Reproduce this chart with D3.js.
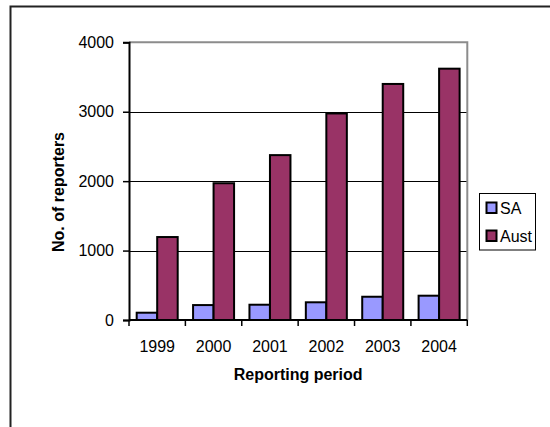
<!DOCTYPE html>
<html>
<head>
<meta charset="utf-8">
<script src="https://cdn.jsdelivr.net/npm/d3@7"></script>
<style>
  html, body { margin: 0; padding: 0; background: #fff; }
  svg { display: block; font-family: "Liberation Sans", Arial, sans-serif; }
</style>
</head>
<body>
<svg id="chart" width="550" height="427"></svg>
<script>
// Reporting periods and the number of reporters per period
const years = ["1999", "2000", "2001", "2002", "2003", "2004"];
const seriesNames = ["SA", "Aust"];
const saValues = [105, 215, 220, 255, 335, 350];
const austValues = [1195, 1970, 2375, 2975, 3400, 3620];
const yTicks = [0, 1000, 2000, 3000, 4000];
const seriesColors = ["#9999FF", "#993366"];

const rows = years.map((y, i) => ({ year: y, SA: saValues[i], Aust: austValues[i] }));

const svg = d3.select("#chart");

// Chart area frame
svg.append("rect")
  .attr("x", 10.5).attr("y", 6.5)
  .attr("width", 600).attr("height", 500)
  .attr("fill", "#fff")
  .attr("stroke", "#222").attr("stroke-width", 2);

const plot = { left: 129, top: 42.3, right: 467.3, bottom: 320 };

const x0 = d3.scaleBand().domain(years).range([plot.left, plot.right]).paddingInner(0).paddingOuter(0);
const x1 = d3.scaleBand().domain(seriesNames).range([0, x0.bandwidth()]).paddingInner(0).paddingOuter(0.375);
const y = d3.scaleLinear().domain([0, 4000]).range([plot.bottom, plot.top]);
const color = d3.scaleOrdinal().domain(seriesNames).range(seriesColors);

// Horizontal gridlines
svg.append("g")
  .selectAll("line")
  .data(yTicks.filter(t => t > 0 && t < 4000))
  .join("line")
  .attr("x1", plot.left).attr("x2", plot.right)
  .attr("y1", d => Math.round(y(d)) + 0.5).attr("y2", d => Math.round(y(d)) + 0.5)
  .attr("stroke", "#000").attr("stroke-width", 1);

// Plot area border (top and right in grey)
svg.append("path")
  .attr("d", `M${plot.left},${plot.top}H${plot.right}V${plot.bottom}`)
  .attr("fill", "none")
  .attr("stroke", "#8c8c8c").attr("stroke-width", 2);

// Bars
svg.append("g")
  .selectAll("g")
  .data(rows)
  .join("g")
  .attr("transform", d => `translate(${x0(d.year)},0)`)
  .selectAll("rect")
  .data(d => seriesNames.map(k => ({ key: k, value: d[k] })))
  .join("rect")
  .attr("x", d => x1(d.key))
  .attr("y", d => y(d.value))
  .attr("width", x1.bandwidth())
  .attr("height", d => y(0) - y(d.value))
  .attr("fill", d => color(d.key))
  .attr("stroke", "#000").attr("stroke-width", 2);

// Y axis
const yAxis = svg.append("g")
  .attr("transform", `translate(${plot.left},0)`)
  .call(d3.axisLeft(y).tickValues(yTicks).tickSize(6).tickPadding(9).tickFormat(d3.format("d")));
yAxis.select(".domain").attr("stroke", "#000").attr("stroke-width", 2);
yAxis.selectAll(".tick line").attr("stroke", "#000").attr("stroke-width", 1.5);
yAxis.selectAll(".tick text").attr("font-size", 16).attr("fill", "#000")
  .attr("font-family", "'Liberation Sans', Arial, sans-serif");

// X axis: ticks at category boundaries
const xAxis = svg.append("g")
  .attr("transform", `translate(0,${plot.bottom})`);
xAxis.append("line")
  .attr("x1", plot.left).attr("x2", plot.right)
  .attr("stroke", "#000").attr("stroke-width", 2);
const boundaries = years.map(yv => x0(yv)).concat([plot.right]);
xAxis.selectAll("line.tick")
  .data(boundaries)
  .join("line")
  .attr("class", "tick")
  .attr("x1", d => d).attr("x2", d => d)
  .attr("y1", 0).attr("y2", 6)
  .attr("stroke", "#000").attr("stroke-width", 1.5);
xAxis.selectAll("text")
  .data(years)
  .join("text")
  .attr("x", d => x0(d) + x0.bandwidth() / 2)
  .attr("y", 31.5)
  .attr("text-anchor", "middle")
  .attr("font-size", 16)
  .attr("fill", "#000")
  .text(d => d);

// Axis titles
svg.append("text")
  .attr("x", (plot.left + plot.right) / 2)
  .attr("y", 380)
  .attr("text-anchor", "middle")
  .attr("font-size", 16).attr("font-weight", "bold")
  .text("Reporting period");

svg.append("text")
  .attr("transform", `translate(64,192) rotate(-90)`)
  .attr("text-anchor", "middle")
  .attr("font-size", 16).attr("font-weight", "bold")
  .text("No. of reporters");

// Legend
const legend = svg.append("g").attr("transform", "translate(479.5,193.5)");
legend.append("rect")
  .attr("width", 56).attr("height", 56.5)
  .attr("fill", "#fff").attr("stroke", "#000").attr("stroke-width", 1);
const items = legend.selectAll("g.item")
  .data(seriesNames)
  .join("g")
  .attr("class", "item")
  .attr("transform", (d, i) => `translate(7,${9 + i * 28})`);
items.append("rect")
  .attr("width", 10).attr("height", 10.5)
  .attr("fill", d => color(d))
  .attr("stroke", "#000").attr("stroke-width", 2);
items.append("text")
  .attr("x", 13.5).attr("y", 11)
  .attr("font-size", 16)
  .text(d => d);
</script>
</body>
</html>
